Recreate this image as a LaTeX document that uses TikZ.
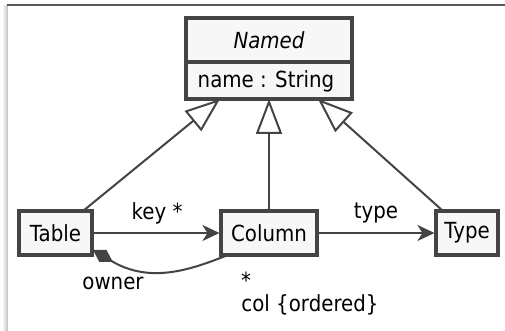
\documentclass[tikz,border=0pt]{standalone}
\usepackage{fontspec}
\usepackage{graphicx}
\setmainfont{DejaVu Sans}
\usetikzlibrary{arrows.meta}
\definecolor{ln}{HTML}{444444}
\definecolor{bx}{HTML}{F7F7F7}
\newcommand\vtxt[1]{\scalebox{1}[1.12]{#1}}
\begin{document}
\begin{tikzpicture}[x=1pt,y=-1pt,
  font=\fontsize{19.8}{24}\selectfont,
  cls/.style={draw=ln,line width=3.1pt,fill=bx,inner sep=0pt,text=black},
  gen/.style={draw=ln,line width=2pt,-{Triangle[open,length=35pt,width=26pt,line width=2pt,fill=white]}},
  nav/.style={draw=ln,line width=2pt,-{Stealth[length=17pt,width=16pt,inset=5pt]}},
  lbl/.style={inner sep=0pt,text=black}]
\useasboundingbox (0,0) rectangle (505,331);
\fill[white] (0,0) rectangle (505,331);
% frame of the screenshot
\foreach \i/\c in {0/4,1/8,2/12,3/16,4/22}{
  \draw[black!\c, line width=1pt] (3+\i,5) -- (3+\i,331);}
\draw[black!65, line width=1.8pt] (7,5) -- (505,5);
% Named class
\draw[cls] (186,18) rectangle (352,99);
\draw[ln,line width=3.1pt] (186,62) -- (352,62);
\node[lbl] (namedT) at (269,40) {\vtxt{\itshape Named}};
\node[lbl] (namedA) at (266,81) {\vtxt{name : String}};
\coordinate (named) at (269,99);
\coordinate (nL) at (220,99);
\coordinate (nR) at (318,99);
% classes
\node[cls,minimum width=73pt,minimum height=44pt] (Table) at (55.5,233) {\vtxt{Table}};
\node[cls,minimum width=96pt,minimum height=44pt] (Column) at (269,233) {\vtxt{Column}};
\node[cls,minimum width=62pt,minimum height=44pt] (Type) at (467,233) {\vtxt{Type}};
% generalizations
\coordinate (tTop) at (83,211);
\coordinate (yTop) at (443,211);
\draw[gen] (tTop) -- (nL);
\draw[gen] (Column.north) -- (named);
\draw[gen] (yTop) -- (nR);
% associations
\draw[nav] (Table.east) -- (Column.west);
\draw[nav] (Column.east) -- (Type.west);
\node[lbl] (keyL) at (157,213) {\vtxt{key *}};
\node[lbl] (typeL) at (376,213) {\vtxt{type}};
% composition
\coordinate (cA) at (93,250);
\coordinate (cB) at (228,255);
\draw[draw=ln,line width=2pt,{Diamond[length=23pt,width=14pt,fill=ln]}-] (cA) .. controls (150,284) and (190,270) .. (cB);
\node[lbl] (ownerL) at (113,283) {\vtxt{owner}};
\node[lbl] (starL) at (246,280) {\vtxt{*}};
\node[lbl] (colL) at (310,305) {\vtxt{col \{ordered\}}};
\end{tikzpicture}
\end{document}
